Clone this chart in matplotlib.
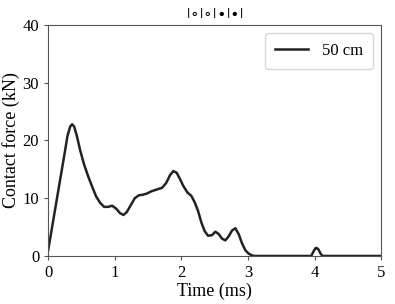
import numpy as np
import matplotlib
matplotlib.use("Agg")
import matplotlib.pyplot as plt

plt.rcParams['font.family'] = ['Liberation Serif', 'DejaVu Serif']
plt.rcParams['mathtext.fontset'] = 'stix'

# Contact force curve (time in ms, force in kN)
time_ms = [0.00, 0.05, 0.10, 0.15, 0.20, 0.25, 0.29, 0.33, 0.36, 0.39, 0.43,
           0.48, 0.54, 0.60, 0.66, 0.72, 0.78, 0.84, 0.90, 0.96, 1.02, 1.08, 1.13,
           1.18, 1.24, 1.30, 1.36, 1.42, 1.48, 1.55, 1.63, 1.71, 1.77, 1.83,
           1.88, 1.93, 1.98, 2.03, 2.09, 2.15, 2.20, 2.25, 2.30, 2.35, 2.40,
           2.46, 2.51, 2.56, 2.61, 2.66, 2.71, 2.76, 2.81, 2.86, 2.91, 2.96,
           3.01, 3.06, 3.10, 3.95, 3.98, 4.01, 4.03, 4.06, 4.09, 4.12, 5.00]
force_kn = [1.0, 4.4, 7.8, 11.2, 14.6, 18.0, 20.8, 22.4, 22.8, 22.4, 20.8,
            18.3, 15.8, 13.8, 12.0, 10.3, 9.2, 8.5, 8.5, 8.7, 8.2, 7.4, 7.1,
            7.6, 8.8, 10.0, 10.5, 10.6, 10.8, 11.2, 11.5, 11.8, 12.6, 14.0,
            14.7, 14.4, 13.3, 12.1, 11.0, 10.4, 9.3, 7.8, 5.8, 4.3, 3.5,
            3.6, 4.2, 3.8, 3.0, 2.7, 3.4, 4.4, 4.8, 3.8, 2.2, 1.0,
            0.4, 0.1, 0.0, 0.0, 0.7, 1.3, 1.4, 1.1, 0.4, 0.0, 0.0]

fig, ax = plt.subplots(figsize=(3.95, 3.04), dpi=100)
fig.subplots_adjust(left=0.122, right=0.965, top=0.918, bottom=0.158)

ax.plot(time_ms, force_kn, color='#222222', linewidth=1.8, label='50 cm')

ax.set_xlim(0, 5)
ax.set_ylim(0, 40)
ax.set_xticks([0, 1, 2, 3, 4, 5])
ax.set_yticks([0, 10, 20, 30, 40])
ax.tick_params(labelsize=12, length=3, color='#555555')
for s in ax.spines.values():
    s.set_color('#555555')

ax.set_xlabel('Time (ms)', fontsize=13, labelpad=1)
ax.set_ylabel('Contact force (kN)', fontsize=13, labelpad=2)
ax.set_title(r'$|\circ|\circ|\bullet|\bullet|$', fontsize=11.5, pad=5)
ax.legend(loc='upper right', fontsize=12, handlelength=2.0, borderpad=0.6)

fig.savefig('out.png', dpi=100)
